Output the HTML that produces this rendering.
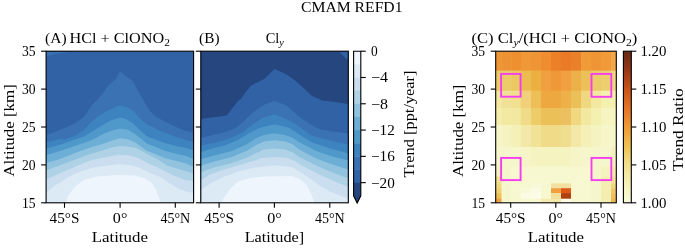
<!DOCTYPE html>
<html><head><meta charset="utf-8"><title>CMAM REFD1</title>
<style>html,body{margin:0;padding:0;background:#fff;}svg{display:block;}</style>
</head><body>
<svg width="685" height="248" viewBox="0 0 685 248" font-family='"Liberation Serif", "DejaVu Serif", serif' fill="#000">
<rect width="685" height="248" fill="#fff"/>
<defs></defs>
<text x="351.8" y="11.9" text-anchor="middle" textLength="101.5" lengthAdjust="spacingAndGlyphs" font-size="14.4">CMAM REFD1</text>
<clipPath id="clipA"><rect x="46.1" y="51.2" width="147.5" height="151.6"/></clipPath>
<g clip-path="url(#clipA)">
<rect x="41.1" y="46.2" width="157.5" height="161.6" fill="#3162a6"/>
<polygon points="40.0,57.5 46.1,56.3 52.0,54.8 60.0,53.3 66.0,52.4 72.0,51.4 76.0,49.0 40.0,49.0" fill="#3a72b4"/>
<polygon points="40.0,138.0 46.1,135.5 53.7,132.3 60.1,129.8 68.2,126.6 76.3,122.6 84.0,116.9 89.7,108.2 92.1,105.0 97.3,100.0 101.7,94.4 108.3,85.5 116.1,78.8 120.1,71.1 123.9,74.4 132.7,81.0 139.4,93.2 146.2,105.0 150.3,111.5 155.1,116.3 158.0,118.0 165.0,121.5 176.0,127.0 186.0,131.0 193.6,133.0 200.0,134.5 203.6,212.8 36.1,212.8" fill="#3a72b4"/>
<polygon points="40.0,144.0 46.1,142.3 60.0,139.0 65.0,139.5 76.3,135.0 84.0,129.8 89.7,123.5 97.7,116.5 105.8,111.5 115.5,107.0 120.1,105.2 127.7,107.5 134.1,111.5 139.0,117.5 147.0,124.5 153.6,127.5 160.0,131.0 170.0,134.5 176.0,137.0 186.0,140.0 193.6,142.0 200.0,143.5 203.6,212.8 36.1,212.8" fill="#3d83bf"/>
<polygon points="40.0,150.5 46.1,148.7 60.0,144.7 76.3,139.0 84.0,136.6 91.3,132.0 101.0,126.0 110.6,120.5 120.1,117.5 126.1,119.0 132.5,123.0 139.0,129.5 147.0,136.5 158.0,140.5 167.0,143.7 178.3,146.5 186.0,148.0 193.6,150.5 200.0,152.0 203.6,212.8 36.1,212.8" fill="#4f99ca"/>
<polygon points="40.0,157.0 46.1,155.2 60.0,151.1 76.3,145.5 84.0,143.1 92.9,139.5 104.2,133.5 112.3,130.5 120.1,128.5 127.7,129.8 134.1,133.5 140.6,138.5 147.0,143.7 155.7,146.9 165.4,151.0 178.3,154.2 186.0,156.0 193.6,159.0 200.0,160.5 203.6,212.8 36.1,212.8" fill="#6caed6"/>
<polygon points="40.0,164.7 46.1,163.0 60.0,159.0 76.3,152.4 84.0,149.7 92.0,147.0 104.2,143.5 112.3,140.5 120.1,138.3 127.7,139.3 135.7,142.8 146.0,150.2 155.7,154.2 165.4,158.2 178.3,161.5 186.0,163.5 193.6,167.0 200.0,168.5 203.6,212.8 36.1,212.8" fill="#91c3de"/>
<polygon points="40.0,172.2 46.1,170.5 60.0,165.2 76.3,159.2 84.0,156.3 92.0,153.5 104.0,150.0 112.0,147.5 120.1,146.0 127.7,146.5 135.7,148.1 143.8,152.1 151.9,156.5 158.0,159.5 167.0,165.5 178.3,169.0 186.0,171.0 193.6,173.5 200.0,175.0 203.6,212.8 36.1,212.8" fill="#b0d2e7"/>
<polygon points="40.0,181.3 46.1,179.5 60.0,173.3 76.3,166.2 84.0,163.0 92.0,160.0 104.0,157.5 112.0,156.0 118.0,154.8 127.7,155.3 137.4,157.7 145.4,161.8 153.5,165.8 158.0,167.4 162.1,169.8 173.4,175.5 186.0,180.3 193.6,181.0 200.0,182.0 203.6,212.8 36.1,212.8" fill="#cadef0"/>
<polygon points="40.0,194.4 46.1,192.5 55.1,185.4 60.0,182.7 68.4,176.9 76.3,173.0 84.0,170.6 92.0,168.0 104.0,166.0 118.0,164.2 129.3,165.0 139.0,167.4 148.6,172.3 158.0,176.3 160.5,177.1 168.6,182.7 178.3,188.4 186.0,191.6 193.6,193.0 200.0,194.0 203.6,212.8 36.1,212.8" fill="#dceaf6"/>
<polygon points="65.5,210.0 66.2,202.8 68.4,195.5 75.1,186.6 83.9,179.9 97.3,176.6 110.6,175.5 118.0,175.0 134.0,175.5 144.0,178.0 150.8,182.0 155.7,189.2 158.9,197.3 160.5,202.8 161.0,210.0 203.6,212.8 36.1,212.8" fill="#eef5fc"/>
</g>
<rect x="46.1" y="51.2" width="147.5" height="151.6" fill="none" stroke="#000" stroke-width="1.1"/>
<line x1="41.1" y1="202.80" x2="46.1" y2="202.80" stroke="#000" stroke-width="1.1"/>
<text x="35.5" y="207.6" text-anchor="end" textLength="13.6" lengthAdjust="spacingAndGlyphs" font-size="14.4">15</text>
<line x1="41.1" y1="164.90" x2="46.1" y2="164.90" stroke="#000" stroke-width="1.1"/>
<text x="35.5" y="169.7" text-anchor="end" textLength="13.6" lengthAdjust="spacingAndGlyphs" font-size="14.4">20</text>
<line x1="41.1" y1="127.00" x2="46.1" y2="127.00" stroke="#000" stroke-width="1.1"/>
<text x="35.5" y="131.8" text-anchor="end" textLength="13.6" lengthAdjust="spacingAndGlyphs" font-size="14.4">25</text>
<line x1="41.1" y1="89.10" x2="46.1" y2="89.10" stroke="#000" stroke-width="1.1"/>
<text x="35.5" y="93.9" text-anchor="end" textLength="13.6" lengthAdjust="spacingAndGlyphs" font-size="14.4">30</text>
<line x1="41.1" y1="51.20" x2="46.1" y2="51.20" stroke="#000" stroke-width="1.1"/>
<text x="35.5" y="56.0" text-anchor="end" textLength="13.6" lengthAdjust="spacingAndGlyphs" font-size="14.4">35</text>
<line x1="64.50" y1="202.8" x2="64.50" y2="207.8" stroke="#000" stroke-width="1.1"/>
<text x="64.5" y="223.4" text-anchor="middle" textLength="29.8" lengthAdjust="spacingAndGlyphs" font-size="14.4">45°S</text>
<line x1="120.10" y1="202.8" x2="120.10" y2="207.8" stroke="#000" stroke-width="1.1"/>
<text x="120.1" y="223.4" text-anchor="middle" textLength="14.5" lengthAdjust="spacingAndGlyphs" font-size="14.4">0°</text>
<line x1="175.30" y1="202.8" x2="175.30" y2="207.8" stroke="#000" stroke-width="1.1"/>
<text x="175.3" y="223.4" text-anchor="middle" textLength="29.8" lengthAdjust="spacingAndGlyphs" font-size="14.4">45°N</text>
<text x="45.1" y="43.3" textLength="21.5" lengthAdjust="spacingAndGlyphs" font-size="14.4">(A)</text>
<text x="119.7" y="43.3" text-anchor="middle" font-size="14.4" textLength="100.5" lengthAdjust="spacingAndGlyphs">HCl + ClONO<tspan font-size="10.2" dy="2.6">2</tspan></text>
<text x="119.8" y="242.4" text-anchor="middle" textLength="56.2" lengthAdjust="spacingAndGlyphs" font-size="14.4">Latitude</text>
<text x="0" y="0" transform="translate(13.6,130.4) rotate(-90)" text-anchor="middle" textLength="92.5" lengthAdjust="spacingAndGlyphs" font-size="14.4">Altitude [km]</text>
<clipPath id="clipB"><rect x="200.8" y="51.2" width="147.5" height="151.6"/></clipPath>
<g clip-path="url(#clipB)">
<rect x="195.8" y="46.2" width="157.5" height="161.6" fill="#25467f"/>
<polygon points="335.0,49.0 338.5,51.2 348.3,60.5 355.0,66.0 355.0,49.0" fill="#3162a6"/>
<polygon points="195.0,119.5 201.3,118.9 213.5,117.3 226.8,115.5 233.5,106.7 239.0,100.0 240.2,99.9 245.7,92.1 251.3,85.5 264.6,78.8 274.5,68.9 286.7,74.4 295.6,81.0 304.5,88.8 311.2,95.5 322.3,100.5 335.6,102.0 345.5,103.8 355.0,105.0 358.3,212.8 190.8,212.8" fill="#3162a6"/>
<polygon points="195.0,138.5 201.3,137.7 211.3,135.5 224.6,132.2 235.7,128.0 244.6,120.5 253.5,112.0 264.6,104.4 274.5,101.1 286.7,105.5 297.8,115.5 308.9,123.5 320.2,129.5 336.4,132.0 348.5,133.5 355.0,134.0 358.3,212.8 190.8,212.8" fill="#3a72b4"/>
<polygon points="195.0,146.5 201.3,145.5 218.0,142.1 231.3,137.7 242.4,132.5 251.3,125.5 262.3,118.0 274.5,114.4 286.7,118.9 297.8,125.5 310.2,135.0 324.2,139.0 336.0,141.8 348.5,144.5 355.0,145.5 358.3,212.8 190.8,212.8" fill="#3d83bf"/>
<polygon points="195.0,152.5 201.3,152.0 211.3,148.8 224.6,145.5 237.9,139.9 249.0,133.3 260.1,127.7 274.5,124.2 289.0,127.7 300.0,135.0 312.1,142.5 330.2,148.5 348.5,153.5 355.0,155.0 358.3,212.8 190.8,212.8" fill="#4f99ca"/>
<polygon points="195.0,160.0 201.3,158.9 215.1,155.2 231.3,151.2 247.4,144.0 256.0,138.0 264.0,135.0 274.5,133.3 285.0,135.0 292.0,137.5 300.0,142.5 316.1,151.0 332.3,156.5 348.5,160.5 355.0,162.0 358.3,212.8 190.8,212.8" fill="#6caed6"/>
<polygon points="195.0,166.5 201.3,165.5 215.1,161.3 231.3,157.2 247.4,150.5 256.0,145.0 264.0,141.5 274.5,140.3 285.0,141.5 292.0,144.0 300.0,150.0 316.1,158.5 332.3,164.5 348.5,169.5 355.0,171.0 358.3,212.8 190.8,212.8" fill="#91c3de"/>
<polygon points="195.0,173.0 201.3,172.0 215.1,167.3 231.3,163.3 247.4,157.5 256.0,153.0 264.0,149.5 274.5,148.4 285.0,149.5 292.0,152.0 300.0,157.5 316.1,165.5 332.3,172.5 348.5,178.5 355.0,180.0 358.3,212.8 190.8,212.8" fill="#b0d2e7"/>
<polygon points="195.0,181.0 201.3,179.9 209.1,175.0 222.4,170.0 237.9,165.5 250.0,162.0 262.0,158.0 274.5,157.0 287.0,158.0 295.0,161.0 300.0,164.5 316.1,173.0 332.3,180.5 348.5,187.0 355.0,189.0 358.3,212.8 190.8,212.8" fill="#cadef0"/>
<polygon points="195.0,191.0 201.3,189.5 211.3,183.0 224.6,176.5 240.2,171.0 255.7,167.5 274.5,165.6 291.2,167.0 300.0,172.0 310.0,178.5 320.0,186.0 332.1,192.5 348.5,198.5 355.0,200.0 358.3,212.8 190.8,212.8" fill="#dceaf6"/>
<polygon points="220.5,210.0 221.3,202.8 224.6,196.6 231.3,187.7 239.0,181.0 251.3,177.7 264.6,176.5 291.2,176.0 300.1,179.0 306.7,185.0 311.2,194.0 314.5,202.8 315.0,210.0 358.3,212.8 190.8,212.8" fill="#eef5fc"/>
</g>
<rect x="200.8" y="51.2" width="147.5" height="151.6" fill="none" stroke="#000" stroke-width="1.1"/>
<line x1="195.8" y1="202.80" x2="200.8" y2="202.80" stroke="#000" stroke-width="1.1"/>
<line x1="195.8" y1="164.90" x2="200.8" y2="164.90" stroke="#000" stroke-width="1.1"/>
<line x1="195.8" y1="127.00" x2="200.8" y2="127.00" stroke="#000" stroke-width="1.1"/>
<line x1="195.8" y1="89.10" x2="200.8" y2="89.10" stroke="#000" stroke-width="1.1"/>
<line x1="195.8" y1="51.20" x2="200.8" y2="51.20" stroke="#000" stroke-width="1.1"/>
<line x1="219.10" y1="202.8" x2="219.10" y2="207.8" stroke="#000" stroke-width="1.1"/>
<text x="219.1" y="223.4" text-anchor="middle" textLength="29.8" lengthAdjust="spacingAndGlyphs" font-size="14.4">45°S</text>
<line x1="274.40" y1="202.8" x2="274.40" y2="207.8" stroke="#000" stroke-width="1.1"/>
<text x="274.4" y="223.4" text-anchor="middle" textLength="14.5" lengthAdjust="spacingAndGlyphs" font-size="14.4">0°</text>
<line x1="329.80" y1="202.8" x2="329.80" y2="207.8" stroke="#000" stroke-width="1.1"/>
<text x="329.8" y="223.4" text-anchor="middle" textLength="29.8" lengthAdjust="spacingAndGlyphs" font-size="14.4">45°N</text>
<text x="199.1" y="43.3" textLength="20.4" lengthAdjust="spacingAndGlyphs" font-size="14.4">(B)</text>
<text x="274.7" y="43.3" text-anchor="middle" font-size="14.4">Cl<tspan font-size="10.2" dy="2.6" font-style="italic">y</tspan></text>
<text x="274.4" y="242.4" text-anchor="middle" textLength="59.5" lengthAdjust="spacingAndGlyphs" font-size="14.4">Latitude]</text>
<rect x="353.6" y="51.20" width="7.2" height="13.45" fill="#eef5fc"/>
<rect x="353.6" y="64.35" width="7.2" height="13.45" fill="#dceaf6"/>
<rect x="353.6" y="77.49" width="7.2" height="13.45" fill="#cadef0"/>
<rect x="353.6" y="90.64" width="7.2" height="13.45" fill="#b0d2e7"/>
<rect x="353.6" y="103.78" width="7.2" height="13.45" fill="#91c3de"/>
<rect x="353.6" y="116.93" width="7.2" height="13.45" fill="#6caed6"/>
<rect x="353.6" y="130.07" width="7.2" height="13.45" fill="#4f99ca"/>
<rect x="353.6" y="143.22" width="7.2" height="13.45" fill="#3d83bf"/>
<rect x="353.6" y="156.36" width="7.2" height="13.45" fill="#3a72b4"/>
<rect x="353.6" y="169.51" width="7.2" height="13.45" fill="#3162a6"/>
<rect x="353.6" y="182.65" width="7.2" height="13.45" fill="#25467f"/>
<polygon points="353.6,195.8 360.8,195.8 357.20,203.0" fill="#22427c"/>
<polygon points="353.6,51.2 360.8,51.2 360.8,195.8 357.20,203.0 353.6,195.8" fill="none" stroke="#000" stroke-width="1.1"/>
<line x1="360.8" y1="51.20" x2="365.8" y2="51.20" stroke="#000" stroke-width="1.1"/>
<text x="371" y="56.0" textLength="6.7" lengthAdjust="spacingAndGlyphs" font-size="14.4">0</text>
<line x1="360.8" y1="77.49" x2="365.8" y2="77.49" stroke="#000" stroke-width="1.1"/>
<text x="371" y="82.3" textLength="17" lengthAdjust="spacingAndGlyphs" font-size="14.4">−4</text>
<line x1="360.8" y1="103.78" x2="365.8" y2="103.78" stroke="#000" stroke-width="1.1"/>
<text x="371" y="108.6" textLength="17" lengthAdjust="spacingAndGlyphs" font-size="14.4">−8</text>
<line x1="360.8" y1="130.07" x2="365.8" y2="130.07" stroke="#000" stroke-width="1.1"/>
<text x="371" y="134.9" textLength="23.8" lengthAdjust="spacingAndGlyphs" font-size="14.4">−12</text>
<line x1="360.8" y1="156.36" x2="365.8" y2="156.36" stroke="#000" stroke-width="1.1"/>
<text x="371" y="161.2" textLength="23.8" lengthAdjust="spacingAndGlyphs" font-size="14.4">−16</text>
<line x1="360.8" y1="182.65" x2="365.8" y2="182.65" stroke="#000" stroke-width="1.1"/>
<text x="371" y="187.5" textLength="23.8" lengthAdjust="spacingAndGlyphs" font-size="14.4">−20</text>
<text x="0" y="0" transform="translate(414.2,124.0) rotate(-90)" text-anchor="middle" textLength="107" lengthAdjust="spacingAndGlyphs" font-size="14.4">Trend [ppt/year]</text>
<clipPath id="clipC"><rect x="495.7" y="51.2" width="120.6" height="151.6"/></clipPath><g clip-path="url(#clipC)"><rect x="495.7" y="51.2" width="6.2" height="19.8" fill="#ef9535"/>
<rect x="501.5" y="51.2" width="10.0" height="19.8" fill="#ee9333"/>
<rect x="511.1" y="51.2" width="10.1" height="19.8" fill="#ef9030"/>
<rect x="520.8" y="51.2" width="10.6" height="19.8" fill="#f09838"/>
<rect x="531.0" y="51.2" width="10.4" height="19.8" fill="#ef9535"/>
<rect x="541.0" y="51.2" width="10.4" height="19.8" fill="#ee8e30"/>
<rect x="551.0" y="51.2" width="10.4" height="19.8" fill="#ec8028"/>
<rect x="561.0" y="51.2" width="10.4" height="19.8" fill="#ea7a25"/>
<rect x="571.0" y="51.2" width="10.4" height="19.8" fill="#ea8029"/>
<rect x="581.0" y="51.2" width="10.4" height="19.8" fill="#f09a38"/>
<rect x="591.0" y="51.2" width="10.4" height="19.8" fill="#f09535"/>
<rect x="601.0" y="51.2" width="10.4" height="19.8" fill="#f09a3a"/>
<rect x="611.0" y="51.2" width="5.7" height="19.8" fill="#f2a848"/>
<rect x="495.7" y="70.6" width="6.2" height="20.5" fill="#eccc68"/>
<rect x="501.5" y="70.6" width="10.0" height="20.5" fill="#eccc68"/>
<rect x="511.1" y="70.6" width="10.1" height="20.5" fill="#ecc860"/>
<rect x="520.8" y="70.6" width="10.6" height="20.5" fill="#ecbc50"/>
<rect x="531.0" y="70.6" width="10.4" height="20.5" fill="#ecb040"/>
<rect x="541.0" y="70.6" width="10.4" height="20.5" fill="#f0a040"/>
<rect x="551.0" y="70.6" width="10.4" height="20.5" fill="#ee9838"/>
<rect x="561.0" y="70.6" width="10.4" height="20.5" fill="#f0a040"/>
<rect x="571.0" y="70.6" width="10.4" height="20.5" fill="#ecb048"/>
<rect x="581.0" y="70.6" width="10.4" height="20.5" fill="#ecc058"/>
<rect x="591.0" y="70.6" width="10.4" height="20.5" fill="#eccc68"/>
<rect x="601.0" y="70.6" width="10.4" height="20.5" fill="#ecd070"/>
<rect x="611.0" y="70.6" width="5.7" height="20.5" fill="#f0d880"/>
<rect x="495.7" y="90.7" width="6.2" height="17.7" fill="#f2e8a0"/>
<rect x="501.5" y="90.7" width="10.0" height="17.7" fill="#f0e098"/>
<rect x="511.1" y="90.7" width="10.1" height="17.7" fill="#f0e090"/>
<rect x="520.8" y="90.7" width="10.6" height="17.7" fill="#f0d078"/>
<rect x="531.0" y="90.7" width="10.4" height="17.7" fill="#eebf58"/>
<rect x="541.0" y="90.7" width="10.4" height="17.7" fill="#eea840"/>
<rect x="551.0" y="90.7" width="10.4" height="17.7" fill="#eea840"/>
<rect x="561.0" y="90.7" width="10.4" height="17.7" fill="#eeb048"/>
<rect x="571.0" y="90.7" width="10.4" height="17.7" fill="#ecc058"/>
<rect x="581.0" y="90.7" width="10.4" height="17.7" fill="#f0d880"/>
<rect x="591.0" y="90.7" width="10.4" height="17.7" fill="#f2e8a0"/>
<rect x="601.0" y="90.7" width="10.4" height="17.7" fill="#f4f0b0"/>
<rect x="611.0" y="90.7" width="5.7" height="17.7" fill="#f4f0b0"/>
<rect x="495.7" y="108.0" width="6.2" height="17.4" fill="#f4eeaa"/>
<rect x="501.5" y="108.0" width="10.0" height="17.4" fill="#f2eaa0"/>
<rect x="511.1" y="108.0" width="10.1" height="17.4" fill="#f2e8a0"/>
<rect x="520.8" y="108.0" width="10.6" height="17.4" fill="#f0dc88"/>
<rect x="531.0" y="108.0" width="10.4" height="17.4" fill="#eecc68"/>
<rect x="541.0" y="108.0" width="10.4" height="17.4" fill="#ecc058"/>
<rect x="551.0" y="108.0" width="10.4" height="17.4" fill="#ecc058"/>
<rect x="561.0" y="108.0" width="10.4" height="17.4" fill="#ecc060"/>
<rect x="571.0" y="108.0" width="10.4" height="17.4" fill="#f0d880"/>
<rect x="581.0" y="108.0" width="10.4" height="17.4" fill="#f2e8a0"/>
<rect x="591.0" y="108.0" width="10.4" height="17.4" fill="#f4f0b0"/>
<rect x="601.0" y="108.0" width="10.4" height="17.4" fill="#f6f4c0"/>
<rect x="611.0" y="108.0" width="5.7" height="17.4" fill="#f6f4c0"/>
<rect x="495.7" y="125.0" width="6.2" height="22.5" fill="#f5f5c8"/>
<rect x="501.5" y="125.0" width="10.0" height="22.5" fill="#f5f3c0"/>
<rect x="511.1" y="125.0" width="10.1" height="22.5" fill="#f5f0b8"/>
<rect x="520.8" y="125.0" width="10.6" height="22.5" fill="#f3e8a8"/>
<rect x="531.0" y="125.0" width="10.4" height="22.5" fill="#f2e298"/>
<rect x="541.0" y="125.0" width="10.4" height="22.5" fill="#f0dc88"/>
<rect x="551.0" y="125.0" width="10.4" height="22.5" fill="#f0dc88"/>
<rect x="561.0" y="125.0" width="10.4" height="22.5" fill="#f0de90"/>
<rect x="571.0" y="125.0" width="10.4" height="22.5" fill="#f3e8a8"/>
<rect x="581.0" y="125.0" width="10.4" height="22.5" fill="#f5f0b8"/>
<rect x="591.0" y="125.0" width="10.4" height="22.5" fill="#f5f3c0"/>
<rect x="601.0" y="125.0" width="10.4" height="22.5" fill="#f6f6c8"/>
<rect x="611.0" y="125.0" width="5.7" height="22.5" fill="#f6f6cc"/>
<rect x="495.7" y="147.1" width="6.2" height="19.9" fill="#f6f6cc"/>
<rect x="501.5" y="147.1" width="10.0" height="19.9" fill="#f6f6cc"/>
<rect x="511.1" y="147.1" width="10.1" height="19.9" fill="#f6f6cc"/>
<rect x="520.8" y="147.1" width="10.6" height="19.9" fill="#f6f5c8"/>
<rect x="531.0" y="147.1" width="10.4" height="19.9" fill="#f5f3c0"/>
<rect x="541.0" y="147.1" width="10.4" height="19.9" fill="#f5f3c0"/>
<rect x="551.0" y="147.1" width="10.4" height="19.9" fill="#f5f3c0"/>
<rect x="561.0" y="147.1" width="10.4" height="19.9" fill="#f5f3c0"/>
<rect x="571.0" y="147.1" width="10.4" height="19.9" fill="#f6f5c8"/>
<rect x="581.0" y="147.1" width="10.4" height="19.9" fill="#f6f6cc"/>
<rect x="591.0" y="147.1" width="10.4" height="19.9" fill="#f6f6cc"/>
<rect x="601.0" y="147.1" width="10.4" height="19.9" fill="#f6f6cc"/>
<rect x="611.0" y="147.1" width="5.7" height="19.9" fill="#f5f0c0"/>
<rect x="495.7" y="166.6" width="6.2" height="10.3" fill="#f5f2c0"/>
<rect x="501.5" y="166.6" width="10.0" height="10.3" fill="#f6f6cc"/>
<rect x="511.1" y="166.6" width="10.1" height="10.3" fill="#f7f8d0"/>
<rect x="520.8" y="166.6" width="10.6" height="10.3" fill="#f7f8d0"/>
<rect x="531.0" y="166.6" width="10.4" height="10.3" fill="#f7f8d0"/>
<rect x="541.0" y="166.6" width="10.4" height="10.3" fill="#f7f8d0"/>
<rect x="551.0" y="166.6" width="10.4" height="10.3" fill="#f7f8d0"/>
<rect x="561.0" y="166.6" width="10.4" height="10.3" fill="#f7f8d0"/>
<rect x="571.0" y="166.6" width="10.4" height="10.3" fill="#f7f8d0"/>
<rect x="581.0" y="166.6" width="10.4" height="10.3" fill="#f7f8d0"/>
<rect x="591.0" y="166.6" width="10.4" height="10.3" fill="#f6f6cc"/>
<rect x="601.0" y="166.6" width="10.4" height="10.3" fill="#f5f3c0"/>
<rect x="611.0" y="166.6" width="5.7" height="10.3" fill="#f3eab0"/>
<rect x="495.7" y="176.5" width="6.2" height="7.3" fill="#f0e090"/>
<rect x="501.5" y="176.5" width="10.0" height="7.3" fill="#f6f6cc"/>
<rect x="511.1" y="176.5" width="10.1" height="7.3" fill="#f7f8d0"/>
<rect x="520.8" y="176.5" width="10.6" height="7.3" fill="#f7f8d0"/>
<rect x="531.0" y="176.5" width="10.4" height="7.3" fill="#f7f8d0"/>
<rect x="541.0" y="176.5" width="10.4" height="7.3" fill="#f7f8d0"/>
<rect x="551.0" y="176.5" width="10.4" height="7.3" fill="#f7f8d0"/>
<rect x="561.0" y="176.5" width="10.4" height="7.3" fill="#f7f8d0"/>
<rect x="571.0" y="176.5" width="10.4" height="7.3" fill="#f7f8d0"/>
<rect x="581.0" y="176.5" width="10.4" height="7.3" fill="#f7f8d0"/>
<rect x="591.0" y="176.5" width="10.4" height="7.3" fill="#f6f6cc"/>
<rect x="601.0" y="176.5" width="10.4" height="7.3" fill="#f4eeb0"/>
<rect x="611.0" y="176.5" width="5.7" height="7.3" fill="#f2e098"/>
<rect x="495.7" y="183.4" width="6.2" height="5.2" fill="#f0d880"/>
<rect x="501.5" y="183.4" width="10.0" height="5.2" fill="#f6f6cc"/>
<rect x="511.1" y="183.4" width="10.1" height="5.2" fill="#f7f8d0"/>
<rect x="520.8" y="183.4" width="10.6" height="5.2" fill="#f7f8d0"/>
<rect x="531.0" y="183.4" width="10.4" height="5.2" fill="#f8f9d8"/>
<rect x="541.0" y="183.4" width="10.4" height="5.2" fill="#f7f8d0"/>
<rect x="551.0" y="183.4" width="10.4" height="5.2" fill="#f3e0a0"/>
<rect x="561.0" y="183.4" width="10.4" height="5.2" fill="#f3e0a0"/>
<rect x="571.0" y="183.4" width="10.4" height="5.2" fill="#f7f8d0"/>
<rect x="581.0" y="183.4" width="10.4" height="5.2" fill="#f7f8d0"/>
<rect x="591.0" y="183.4" width="10.4" height="5.2" fill="#f6f6cc"/>
<rect x="601.0" y="183.4" width="10.4" height="5.2" fill="#f4eeb0"/>
<rect x="611.0" y="183.4" width="5.7" height="5.2" fill="#f0d880"/>
<rect x="495.7" y="188.2" width="6.2" height="5.3" fill="#f0d070"/>
<rect x="501.5" y="188.2" width="10.0" height="5.3" fill="#f6f6cc"/>
<rect x="511.1" y="188.2" width="10.1" height="5.3" fill="#f7f8d0"/>
<rect x="520.8" y="188.2" width="10.6" height="5.3" fill="#f8f9d8"/>
<rect x="531.0" y="188.2" width="10.4" height="5.3" fill="#fbfbe4"/>
<rect x="541.0" y="188.2" width="10.4" height="5.3" fill="#f7f8d0"/>
<rect x="551.0" y="188.2" width="10.4" height="5.3" fill="#f0a040"/>
<rect x="561.0" y="188.2" width="10.4" height="5.3" fill="#dd5a18"/>
<rect x="571.0" y="188.2" width="10.4" height="5.3" fill="#f7f8d0"/>
<rect x="581.0" y="188.2" width="10.4" height="5.3" fill="#f7f8d0"/>
<rect x="591.0" y="188.2" width="10.4" height="5.3" fill="#f6f6cc"/>
<rect x="601.0" y="188.2" width="10.4" height="5.3" fill="#f4eeb0"/>
<rect x="611.0" y="188.2" width="5.7" height="5.3" fill="#f0c868"/>
<rect x="495.7" y="193.1" width="6.2" height="6.0" fill="#f0c058"/>
<rect x="501.5" y="193.1" width="10.0" height="6.0" fill="#f6f6cc"/>
<rect x="511.1" y="193.1" width="10.1" height="6.0" fill="#f7f8d0"/>
<rect x="520.8" y="193.1" width="10.6" height="6.0" fill="#fbfbe4"/>
<rect x="531.0" y="193.1" width="10.4" height="6.0" fill="#fcfce8"/>
<rect x="541.0" y="193.1" width="10.4" height="6.0" fill="#f7f8d0"/>
<rect x="551.0" y="193.1" width="10.4" height="6.0" fill="#f2e098"/>
<rect x="561.0" y="193.1" width="10.4" height="6.0" fill="#b04010"/>
<rect x="571.0" y="193.1" width="10.4" height="6.0" fill="#f7f8d0"/>
<rect x="581.0" y="193.1" width="10.4" height="6.0" fill="#f7f8d0"/>
<rect x="591.0" y="193.1" width="10.4" height="6.0" fill="#f6f6cc"/>
<rect x="601.0" y="193.1" width="10.4" height="6.0" fill="#f4eeb0"/>
<rect x="611.0" y="193.1" width="5.7" height="6.0" fill="#f0c060"/>
<rect x="495.7" y="198.7" width="6.2" height="4.5" fill="#f0a040"/>
<rect x="501.5" y="198.7" width="10.0" height="4.5" fill="#f6f6cc"/>
<rect x="511.1" y="198.7" width="10.1" height="4.5" fill="#f7f8d0"/>
<rect x="520.8" y="198.7" width="10.6" height="4.5" fill="#f7f8d0"/>
<rect x="531.0" y="198.7" width="10.4" height="4.5" fill="#f7f8d0"/>
<rect x="541.0" y="198.7" width="10.4" height="4.5" fill="#f5eab0"/>
<rect x="551.0" y="198.7" width="10.4" height="4.5" fill="#f2e8a8"/>
<rect x="561.0" y="198.7" width="10.4" height="4.5" fill="#fffbe8"/>
<rect x="571.0" y="198.7" width="10.4" height="4.5" fill="#f7f8d0"/>
<rect x="581.0" y="198.7" width="10.4" height="4.5" fill="#f7f8d0"/>
<rect x="591.0" y="198.7" width="10.4" height="4.5" fill="#f6f6cc"/>
<rect x="601.0" y="198.7" width="10.4" height="4.5" fill="#f4eeb0"/>
<rect x="611.0" y="198.7" width="5.7" height="4.5" fill="#f0b850"/>
<rect x="501.1" y="73.9" width="19.5" height="22.8" fill="none" stroke="#f43ef0" stroke-width="1.9"/>
<rect x="591.5" y="73.9" width="19.8" height="22.9" fill="none" stroke="#f43ef0" stroke-width="1.9"/>
<rect x="501.1" y="157.9" width="19.5" height="22.2" fill="none" stroke="#f43ef0" stroke-width="1.9"/>
<rect x="591.5" y="157.9" width="19.8" height="22.2" fill="none" stroke="#f43ef0" stroke-width="1.9"/></g>
<rect x="495.7" y="51.2" width="120.6" height="151.6" fill="none" stroke="#000" stroke-width="1.1"/>
<line x1="490.7" y1="202.80" x2="495.7" y2="202.80" stroke="#000" stroke-width="1.1"/>
<text x="485.1" y="207.6" text-anchor="end" textLength="13.6" lengthAdjust="spacingAndGlyphs" font-size="14.4">15</text>
<line x1="490.7" y1="164.90" x2="495.7" y2="164.90" stroke="#000" stroke-width="1.1"/>
<text x="485.1" y="169.7" text-anchor="end" textLength="13.6" lengthAdjust="spacingAndGlyphs" font-size="14.4">20</text>
<line x1="490.7" y1="127.00" x2="495.7" y2="127.00" stroke="#000" stroke-width="1.1"/>
<text x="485.1" y="131.8" text-anchor="end" textLength="13.6" lengthAdjust="spacingAndGlyphs" font-size="14.4">25</text>
<line x1="490.7" y1="89.10" x2="495.7" y2="89.10" stroke="#000" stroke-width="1.1"/>
<text x="485.1" y="93.9" text-anchor="end" textLength="13.6" lengthAdjust="spacingAndGlyphs" font-size="14.4">30</text>
<line x1="490.7" y1="51.20" x2="495.7" y2="51.20" stroke="#000" stroke-width="1.1"/>
<text x="485.1" y="56.0" text-anchor="end" textLength="13.6" lengthAdjust="spacingAndGlyphs" font-size="14.4">35</text>
<line x1="510.70" y1="202.8" x2="510.70" y2="207.8" stroke="#000" stroke-width="1.1"/>
<text x="510.7" y="223.4" text-anchor="middle" textLength="29.8" lengthAdjust="spacingAndGlyphs" font-size="14.4">45°S</text>
<line x1="555.80" y1="202.8" x2="555.80" y2="207.8" stroke="#000" stroke-width="1.1"/>
<text x="555.8" y="223.4" text-anchor="middle" textLength="14.5" lengthAdjust="spacingAndGlyphs" font-size="14.4">0°</text>
<line x1="601.00" y1="202.8" x2="601.00" y2="207.8" stroke="#000" stroke-width="1.1"/>
<text x="601.0" y="223.4" text-anchor="middle" textLength="29.8" lengthAdjust="spacingAndGlyphs" font-size="14.4">45°N</text>
<text x="554.4" y="43.3" text-anchor="middle" font-size="14.4" textLength="165.9" lengthAdjust="spacingAndGlyphs">(C) Cl<tspan font-size="10.2" dy="2.6" font-style="italic">y</tspan><tspan dy="-2.6">/(HCl + ClONO</tspan><tspan font-size="10.2" dy="2.6">2</tspan><tspan dy="-2.6">)</tspan></text>
<text x="555.9" y="242.4" text-anchor="middle" textLength="56.2" lengthAdjust="spacingAndGlyphs" font-size="14.4">Latitude</text>
<text x="0" y="0" transform="translate(463.4,130.8) rotate(-90)" text-anchor="middle" textLength="92.5" lengthAdjust="spacingAndGlyphs" font-size="14.4">Altitude [km]</text>
<linearGradient id="ylorbr" x1="0" y1="1" x2="0" y2="0"><stop offset="0.000" stop-color="#f9f9dc"/><stop offset="0.125" stop-color="#f6f1b8"/><stop offset="0.250" stop-color="#f2df8e"/><stop offset="0.375" stop-color="#efc252"/><stop offset="0.500" stop-color="#ef9a36"/><stop offset="0.625" stop-color="#e47426"/><stop offset="0.750" stop-color="#c8541a"/><stop offset="0.875" stop-color="#96381a"/><stop offset="1.000" stop-color="#652a14"/></linearGradient>
<rect x="623.4" y="51.2" width="7.9" height="151.6" fill="url(#ylorbr)" stroke="#000" stroke-width="1.1"/>
<line x1="631.3" y1="202.80" x2="636.3" y2="202.80" stroke="#000" stroke-width="1.1"/>
<text x="640.4" y="207.6" textLength="26.0" lengthAdjust="spacingAndGlyphs" font-size="14.4">1.00</text>
<line x1="631.3" y1="164.90" x2="636.3" y2="164.90" stroke="#000" stroke-width="1.1"/>
<text x="640.4" y="169.7" textLength="26.0" lengthAdjust="spacingAndGlyphs" font-size="14.4">1.05</text>
<line x1="631.3" y1="127.00" x2="636.3" y2="127.00" stroke="#000" stroke-width="1.1"/>
<text x="640.4" y="131.8" textLength="26.0" lengthAdjust="spacingAndGlyphs" font-size="14.4">1.10</text>
<line x1="631.3" y1="89.10" x2="636.3" y2="89.10" stroke="#000" stroke-width="1.1"/>
<text x="640.4" y="93.9" textLength="26.0" lengthAdjust="spacingAndGlyphs" font-size="14.4">1.15</text>
<line x1="631.3" y1="51.20" x2="636.3" y2="51.20" stroke="#000" stroke-width="1.1"/>
<text x="640.4" y="56.0" textLength="26.0" lengthAdjust="spacingAndGlyphs" font-size="14.4">1.20</text>
<text x="0" y="0" transform="translate(683.0,129.7) rotate(-90)" text-anchor="middle" textLength="82.8" lengthAdjust="spacingAndGlyphs" font-size="14.4">Trend Ratio</text>
</svg>
</body></html>
